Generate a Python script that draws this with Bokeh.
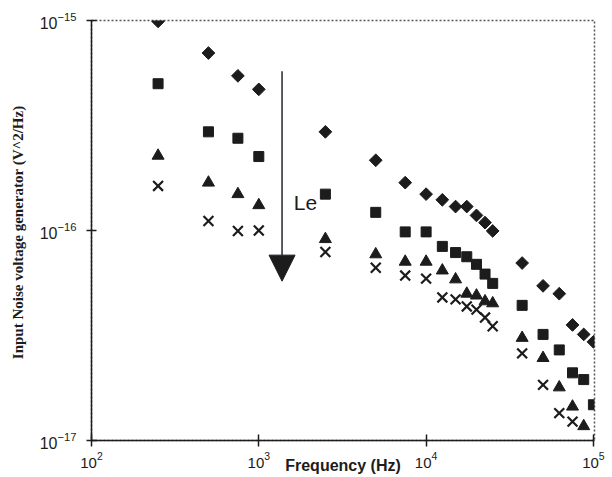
import numpy as np
from bokeh.plotting import figure
from bokeh.models import FixedTicker, Label, Arrow, NormalHead, LogTickFormatter
from bokeh.embed import file_html
from bokeh.resources import INLINE

# ---- data ----
freq = [250, 500, 750, 1000, 2500, 5000, 7500, 10000, 12500, 15000, 17500,
        20000, 22500, 25000, 37500, 50000, 62500, 75000, 87500, 100000]

diamond_vals = [9.9e-16, 7.0e-16, 5.45e-16, 4.7e-16, 2.95e-16, 2.16e-16, 1.69e-16,
                1.49e-16, 1.40e-16, 1.30e-16, 1.30e-16, 1.18e-16, 1.09e-16, 9.95e-17,
                7.0e-17, 5.45e-17, 5.0e-17, 3.55e-17, 3.2e-17, 2.95e-17]
square_vals = [5.0e-16, 2.95e-16, 2.75e-16, 2.25e-16, 1.49e-16, 1.22e-16, 9.85e-17,
               9.85e-17, 8.4e-17, 7.85e-17, 7.5e-17, 6.9e-17, 6.2e-17, 5.6e-17,
               4.4e-17, 3.2e-17, 2.7e-17, 2.1e-17, 1.95e-17, 1.48e-17]
triangle_vals = [2.27e-16, 1.69e-16, 1.49e-16, 1.32e-16, 9.1e-17, 7.7e-17, 7.1e-17,
                 7.1e-17, 6.45e-17, 5.85e-17, 5.0e-17, 4.9e-17, 4.6e-17, 4.5e-17,
                 3.08e-17, 2.47e-17, 1.79e-17, 1.45e-17, 1.17e-17]
cross_vals = [1.63e-16, 1.11e-16, 9.95e-17, 1.0e-16, 7.9e-17, 6.65e-17, 6.1e-17,
              5.9e-17, 4.8e-17, 4.7e-17, 4.35e-17, 4.2e-17, 3.85e-17, 3.5e-17,
              2.6e-17, 1.84e-17, 1.35e-17, 1.23e-17]

x_ticks = [1e2, 1e3, 1e4, 1e5]
y_ticks = [1e-17, 1e-16, 1e-15]

x_title = "Frequency (Hz)"
y_title = "Input Noise voltage generator  (V^2/Hz)"
arrow_label = "Le"

INK = "#1c1c1c"

p = figure(width=612, height=477, x_axis_type="log", y_axis_type="log",
           x_range=(100, 1.015e5), y_range=(1e-17, 1e-15),
           output_backend="svg", toolbar_location=None,
           min_border_left=91, min_border_right=18,
           min_border_top=20, min_border_bottom=37)

p.grid.visible = False
p.background_fill_color = "white"
p.border_fill_color = "white"
p.outline_line_color = "#555555"
p.outline_line_dash = "2 2"
p.outline_line_width = 1.5

for ax, ticks in ((p.xaxis[0], x_ticks), (p.yaxis[0], y_ticks)):
    ax.ticker = FixedTicker(ticks=ticks, minor_ticks=[])
    ax.formatter = LogTickFormatter()
    ax.axis_line_color = INK
    ax.axis_line_width = 1.5
    ax.major_tick_line_color = INK
    ax.major_tick_line_width = 1.5
    ax.minor_tick_line_color = None
    ax.major_label_text_font = "Liberation Sans"
    ax.major_label_text_color = INK

p.xaxis.major_label_text_font_size = "15px"
p.yaxis.major_label_text_font_size = "16px"

p.xaxis.major_tick_in = 6
p.xaxis.major_tick_out = 6
p.xaxis.major_label_standoff = 5
p.yaxis.major_tick_in = 5
p.yaxis.major_tick_out = 5
p.yaxis.major_label_standoff = 10

p.xaxis.axis_label = x_title
p.xaxis.axis_label_text_font = "Liberation Sans"
p.xaxis.axis_label_text_font_style = "bold"
p.xaxis.axis_label_text_font_size = "16px"
p.xaxis.axis_label_text_color = INK
p.xaxis.axis_label_standoff = -14

p.yaxis.axis_label = y_title
p.yaxis.axis_label_text_font = "Liberation Serif"
p.yaxis.axis_label_text_font_style = "bold"
p.yaxis.axis_label_text_font_size = "15px"
p.yaxis.axis_label_text_color = INK
p.yaxis.axis_label_standoff = 11

# ---- series ----
p.scatter(freq, diamond_vals, marker="square", angle=np.pi / 4, size=9,
          fill_color=INK, line_color=INK)
p.scatter(freq, square_vals, marker="square", size=10,
          fill_color=INK, line_color=INK)
p.scatter(freq[:len(triangle_vals)], triangle_vals, marker="triangle", size=12,
          fill_color=INK, line_color=INK)
p.scatter(freq[:len(cross_vals)], cross_vals, marker="x", size=14,
          line_color=INK, line_width=2.2)

# ---- arrow and "Le" annotation ----
p.add_layout(Arrow(x_start=1377, y_start=5.73e-16, x_end=1377, y_end=5.74e-17,
                   line_color="#2a2430", line_width=1.5,
                   end=NormalHead(size=26, fill_color=INK, line_color=INK)))
p.add_layout(Label(x=1619, y=1.36e-16, text=arrow_label,
                   text_font="Liberation Sans", text_font_size="21px",
                   text_color=INK, text_baseline="alphabetic", text_align="left"))

open("out.html", "w").write(file_html(p, INLINE))
